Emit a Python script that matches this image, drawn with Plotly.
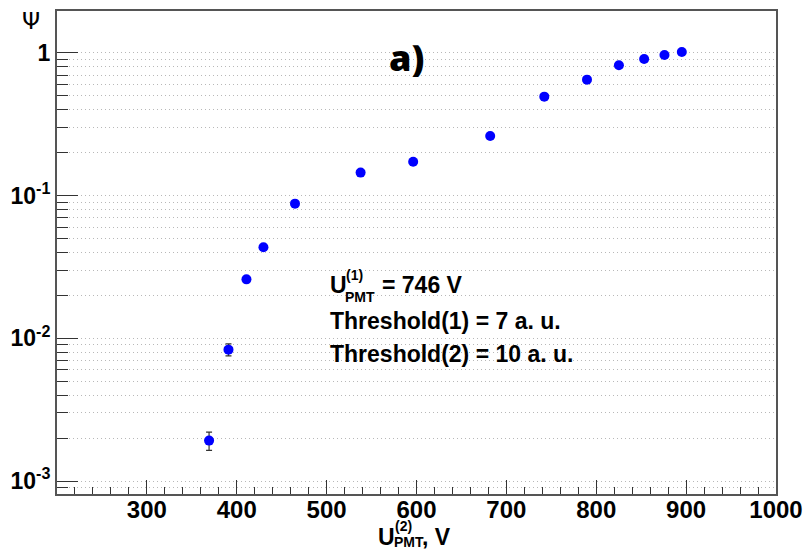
import plotly.graph_objects as go

# ---- data ----
u_pmt2 = [369.2, 390.8, 410.8, 429.7, 464.8, 537.8, 596.3, 682.0, 742.2, 789.7, 825.2, 853.3, 875.9, 895.2]
psi = [0.00192, 0.00833, 0.0259, 0.0435, 0.0879, 0.145, 0.173, 0.262, 0.494, 0.650, 0.820, 0.908, 0.968, 1.016]
psi_err = [0.00028, 0.0008, 0.0012, 0.0016, 0.0025, 0.004, 0.004, 0.005, 0.008, 0.009, 0.010, 0.010, 0.010, 0.010]

x_ticks = [300, 400, 500, 600, 700, 800, 900, 1000]
x_ticktext = ["300", "400", "500", "600", "700", "800", "900", "1000"]
y_ticks = [1e-3, 1e-2, 1e-1, 1]
y_ticktext = ["10<sup>-3</sup>", "10<sup>-2</sup>", "10<sup>-1</sup>", "1"]
y_minor = [m * 10.0 ** e for e in (-4, -3, -2, -1, 0) for m in range(2, 10)] + [1e-3, 1e-2, 1e-1, 1]

W, H = 804, 551
L, R, T, B = 57, 776, 11, 494


def px(x):
    return (x - L) / (R - L)


def py(y):
    return (B - y) / (B - T)


FONT = "Liberation Sans"
GRID = "#b8b8b8"

fig = go.Figure()
fig.add_trace(go.Scatter(
    x=u_pmt2, y=psi, mode="markers",
    marker=dict(color="#0000ff", size=10, line=dict(width=0)),
    error_y=dict(type="data", array=psi_err, visible=True, color="#333333", thickness=1.2, width=3),
    showlegend=False,
))

fig.update_layout(
    width=W, height=H,
    margin=dict(l=L, r=W - R, t=T, b=H - B, pad=0),
    paper_bgcolor="white", plot_bgcolor="white",
    font=dict(family=FONT, color="black"),
    xaxis=dict(
        range=[200, 1000], tickmode="array", tickvals=x_ticks, ticktext=x_ticktext,
        ticks="inside", ticklen=14, tickwidth=1.2, tickcolor="#333333",
        showline=True, linecolor="#555555", linewidth=2, mirror=True,
        showgrid=False, zeroline=False, automargin=False,
        ticklabelstandoff=-7,
        tickfont=dict(family=FONT, size=24, color="black", weight="bold"),
        minor=dict(dtick=20, tick0=200, ticks="inside", ticklen=7, tickwidth=1.2, tickcolor="#333333", showgrid=False),
    ),
    yaxis=dict(
        type="log", range=[-3.091, 0.294], tickmode="array", tickvals=y_ticks, ticktext=y_ticktext,
        ticks="inside", ticklen=21, tickwidth=1.2, tickcolor="#333333",
        showline=True, linecolor="#555555", linewidth=2, mirror=True,
        showgrid=True, gridcolor=GRID, griddash="1px,3px", gridwidth=1,
        zeroline=False, automargin=False,
        tickfont=dict(family=FONT, size=23, color="black", weight="bold"),
        minor=dict(tickmode="array", tickvals=y_minor, ticks="inside", ticklen=11, tickwidth=1.2,
                   tickcolor="#333333", showgrid=True, gridcolor=GRID, griddash="1px,3px", gridwidth=1),
    ),
)

ann = []


def text(x, y, s, size=22, bold=True, family=FONT, xanchor="left", weight=None):
    ann.append(dict(x=px(x), y=py(y), xref="paper", yref="paper", text=s, showarrow=False,
                    xanchor=xanchor, yanchor="middle",
                    font=dict(family=family, size=size, color="black",
                              weight=weight if weight else ("bold" if bold else "normal"))))


# y-axis title
text(31, 21, "Ψ", size=23, bold=False, family="DejaVu Sans", xanchor="center")
# panel label
text(387, 57, "a)", size=36, family="Open Sans", weight=800)
# info block
text(328, 285, "U", size=23)
text(344, 275, "(1)", size=14)
text(343, 297, "PMT", size=14)
text(380, 285, "= 746 V", size=23)
text(328, 321, "Threshold(1) = 7 a. u.", size=23)
text(328, 354, "Threshold(2) = 10 a. u.", size=23)
# x-axis title
text(376, 537, "U", size=23)
text(393, 526, "(2)", size=14)
text(392, 542, "PMT", size=14)
text(420, 537, ", V", size=23)

fig.update_layout(annotations=ann)
fig.write_html("out.html")
